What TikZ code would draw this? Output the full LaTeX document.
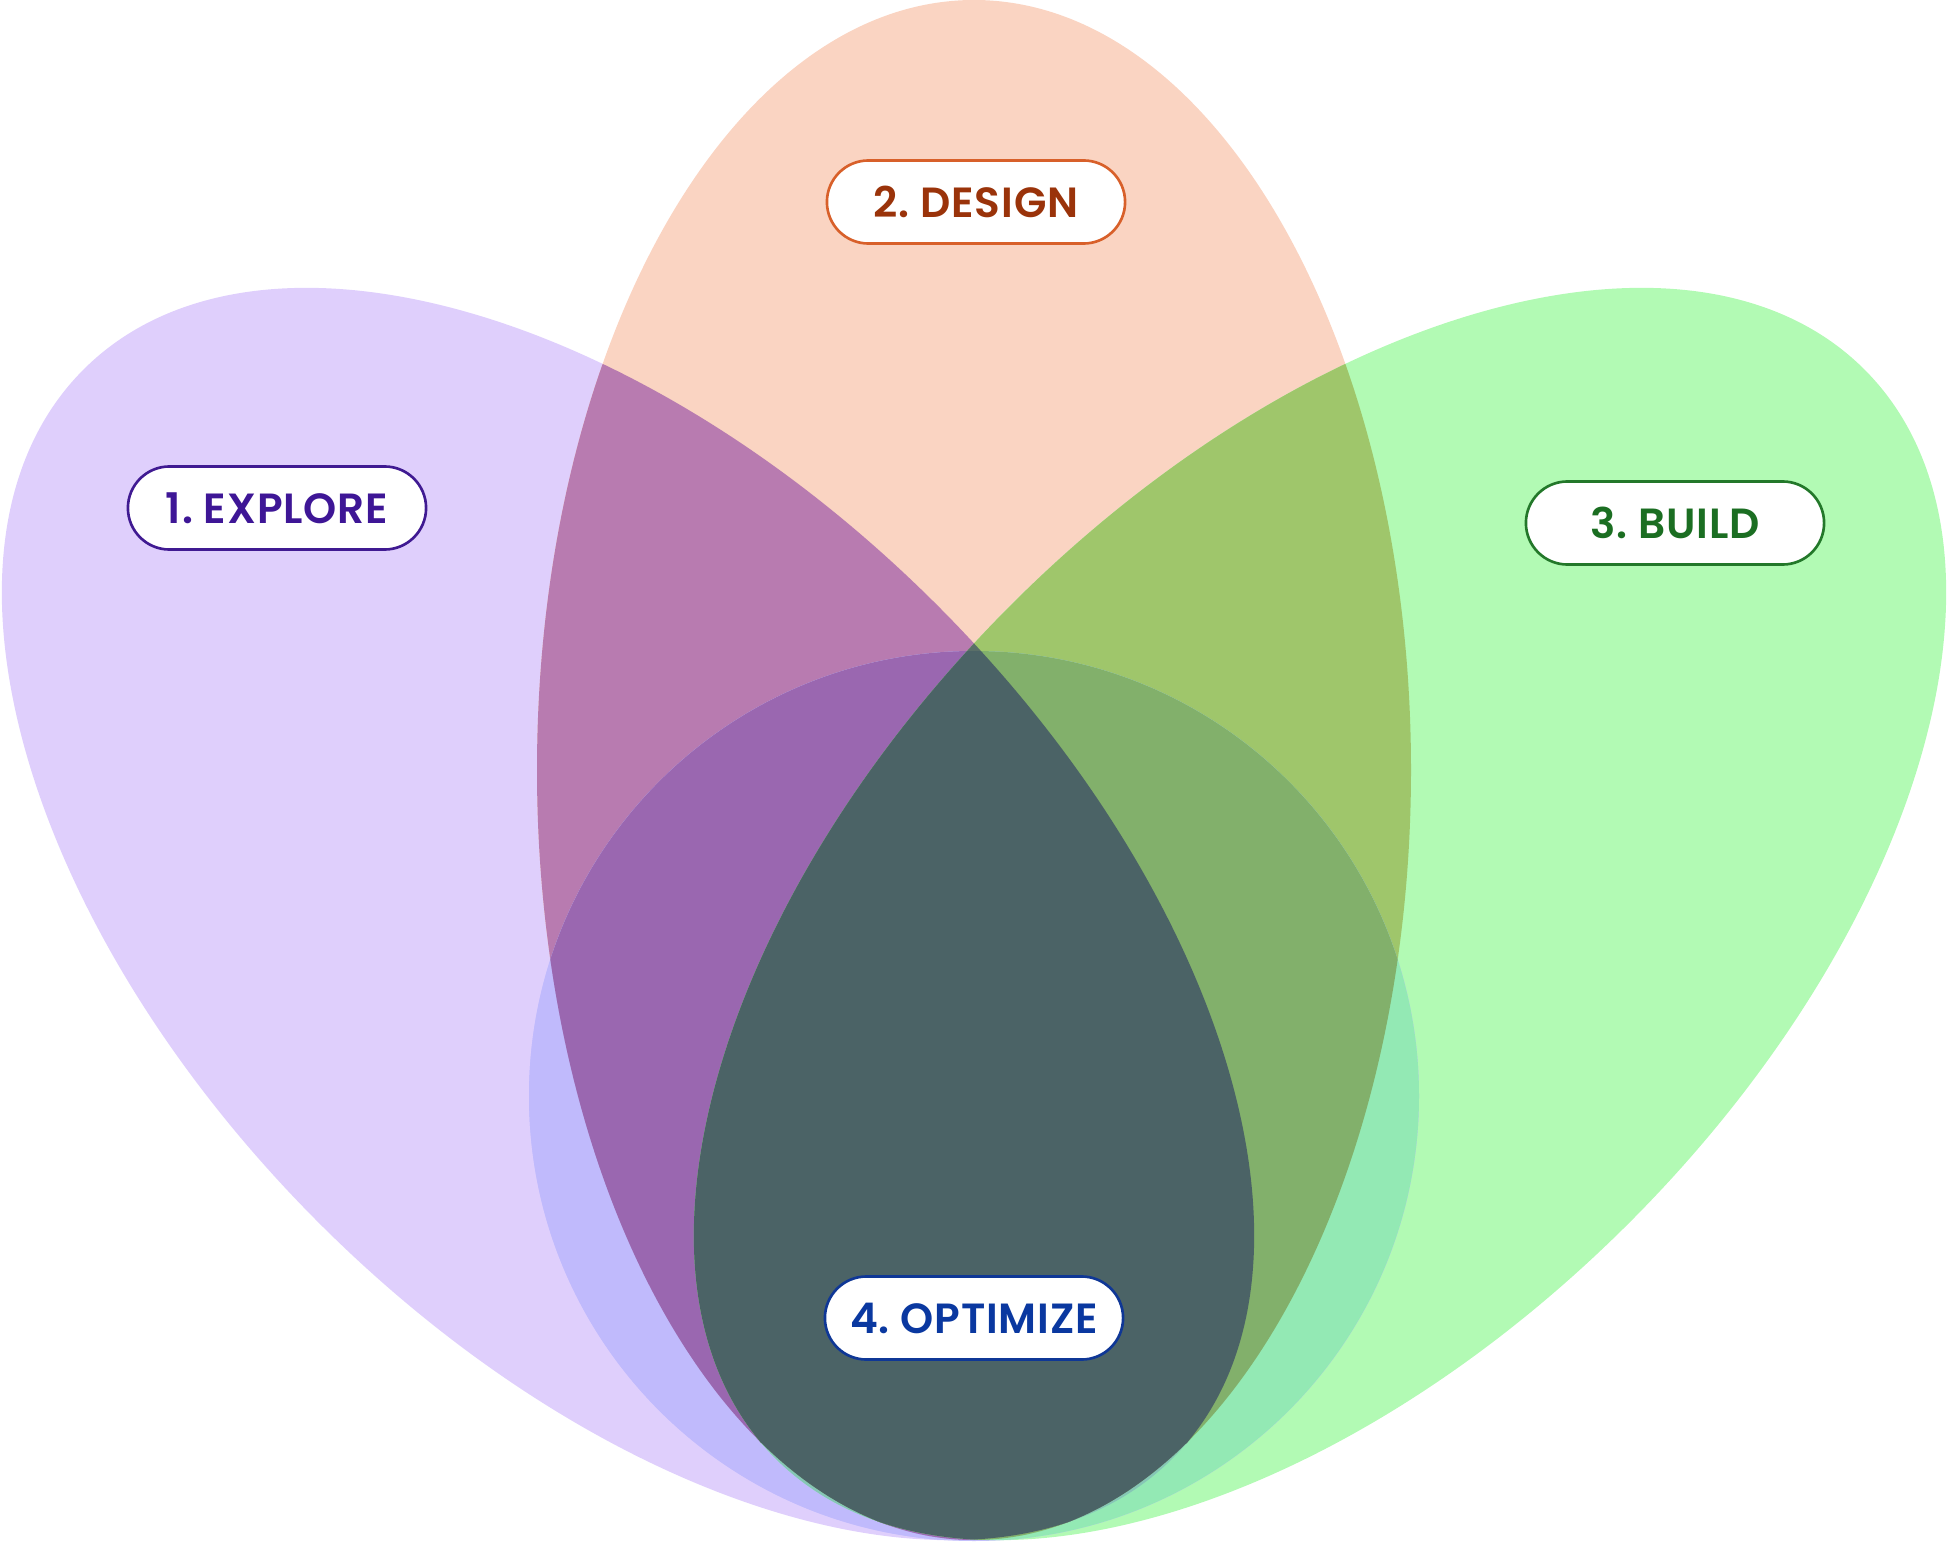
\documentclass[tikz,border=0pt]{standalone}
\usepackage{fontspec}
\setmainfont{Poppins}[BoldFont={Poppins SemiBold}, LetterSpace=2]
\definecolor{cP}{HTML}{DFCFFC}
\definecolor{cO}{HTML}{FAD4C2}
\definecolor{cG}{HTML}{B2FAB4}
\definecolor{cB}{HTML}{C4C0FC}
\definecolor{cPO}{HTML}{B87BB0}
\definecolor{cPG}{HTML}{7FB0AA}
\definecolor{cPB}{HTML}{C0BAFC}
\definecolor{cOG}{HTML}{9FC66B}
\definecolor{cOB}{HTML}{B8A6E0}
\definecolor{cGB}{HTML}{93E9B4}
\definecolor{cPOG}{HTML}{5A6F68}
\definecolor{cPOB}{HTML}{9A67B0}
\definecolor{cPGB}{HTML}{86C6B6}
\definecolor{cOGB}{HTML}{82B06B}
\definecolor{cPOGB}{HTML}{4B6366}
\definecolor{tP}{HTML}{3E1696}
\definecolor{bP}{HTML}{401A92}
\definecolor{tO}{HTML}{9A330A}
\definecolor{bO}{HTML}{D8602A}
\definecolor{tG}{HTML}{1B6E22}
\definecolor{bG}{HTML}{23782A}
\definecolor{tB}{HTML}{0A38A0}
\definecolor{bB}{HTML}{0F3796}
\newcommand\regP[2]{#1[#2,rotate around={45:(628,630)}] (628,630) ellipse [x radius=437, y radius=770];}
\newcommand\regO[2]{#1[#2] (974,774) ellipse [x radius=437, y radius=770];}
\newcommand\regG[2]{#1[#2,rotate around={-45:(1320,630)}] (1320,630) ellipse [x radius=437, y radius=770];}
\newcommand\regB[2]{#1[#2] (974,448) circle [radius=445];}
\tikzset{
  pill/.style={draw, fill=white, rounded corners=0.415cm, minimum width=2.98cm,
    minimum height=0.83cm, line width=0.75pt, inner sep=0pt,
    font=\fontsize{12}{14}\selectfont\bfseries}
}
\begin{document}
\begin{tikzpicture}[x=0.01cm,y=0.01cm]
\useasboundingbox (0,0) rectangle (1948,1544);
% single sets
\regP{\fill}{cP}
\regO{\fill}{cO}
\regG{\fill}{cG}
\regB{\fill}{cB}
% pairs
\begin{scope}\regP{\clip}{}\regO{\fill}{cPO}\end{scope}
\begin{scope}\regP{\clip}{}\regG{\fill}{cPG}\end{scope}
\begin{scope}\regP{\clip}{}\regB{\fill}{cPB}\end{scope}
\begin{scope}\regO{\clip}{}\regG{\fill}{cOG}\end{scope}
\begin{scope}\regO{\clip}{}\regB{\fill}{cOB}\end{scope}
\begin{scope}\regG{\clip}{}\regB{\fill}{cGB}\end{scope}
% triples
\begin{scope}\regP{\clip}{}\regO{\clip}{}\regG{\fill}{cPOG}\end{scope}
\begin{scope}\regP{\clip}{}\regO{\clip}{}\regB{\fill}{cPOB}\end{scope}
\begin{scope}\regP{\clip}{}\regG{\clip}{}\regB{\fill}{cPGB}\end{scope}
\begin{scope}\regO{\clip}{}\regG{\clip}{}\regB{\fill}{cOGB}\end{scope}
% all four
\begin{scope}\regP{\clip}{}\regO{\clip}{}\regG{\clip}{}\regB{\fill}{cPOGB}\end{scope}
% labels
\node[pill, draw=bP, text=tP] (explore) at (277,1036) {1.\ EXPLORE};
\node[pill, draw=bO, text=tO] (design) at (976,1342) {2.\ DESIGN};
\node[pill, draw=bG, text=tG] (build) at (1675,1021) {3.\ BUILD};
\node[pill, draw=bB, text=tB] (optimize) at (974,226) {4.\ OPTIMIZE};
\end{tikzpicture}
\end{document}
